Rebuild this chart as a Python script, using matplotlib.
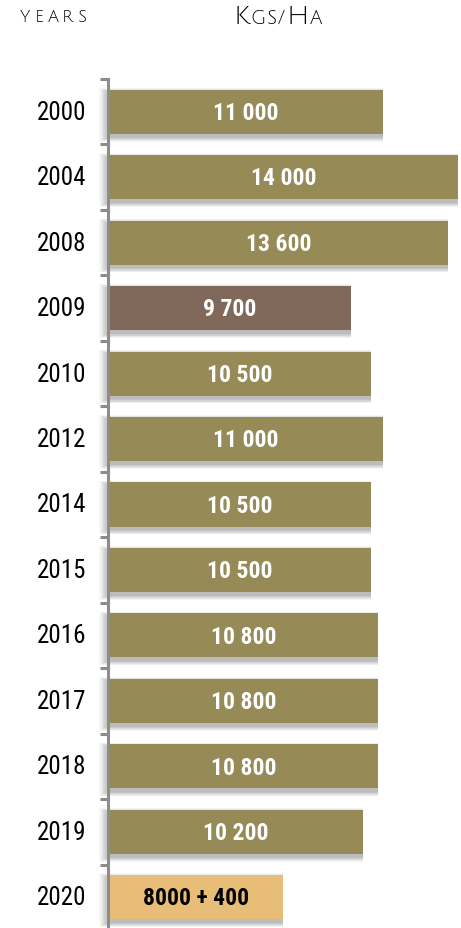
import numpy as np
import matplotlib.pyplot as plt
from matplotlib.patches import Rectangle

years = ["2000", "2004", "2008", "2009", "2010", "2012", "2014", "2015",
         "2016", "2017", "2018", "2019", "2020"]
yields = [11000, 14000, 13600, 9700, 10500, 11000, 10500, 10500,
          10800, 10800, 10800, 10200, 7000]
labels = ["11 000", "14 000", "13 600", "9 700", "10 500", "11 000", "10 500",
          "10 500", "10 800", "10 800", "10 800", "10 200", "8000 + 400"]

OLIVE = "#968a56"
BROWN = "#80685a"
SAND = "#e8bd78"
colors = [OLIVE] * len(years)
colors[3] = BROWN
colors[-1] = SAND
text_colors = ["white"] * len(years)
text_colors[-1] = "black"

NARROW = ["Roboto Condensed", "DejaVu Sans"]
HEAD = ["Julius Sans One", "DejaVu Sans"]

W, H = 461, 929
fig = plt.figure(figsize=(W / 100, H / 100), dpi=100)

# axes spans from the axis line to the right edge
ax_left, ax_top, ax_bot = 108, 80, 931
ax = fig.add_axes([ax_left / W, (H - ax_bot) / H, (W - ax_left) / W, (ax_bot - ax_top) / H])
xmax = (W - ax_left) / (274 / 11000)
ax.set_xlim(0, xmax)
n = len(years)
ax.set_ylim(n - 0.5, -0.5)

px_x = xmax / (W - ax_left)
px_y = n / (ax_bot - ax_top)

bar_h = 0.673
y = np.arange(n)
x0 = px_x  # bars start just right of the axis line

# soft drop shadow under every bar
for yi, v in zip(y, yields):
    for k in range(8, 0, -1):
        ax.add_patch(Rectangle((x0 - k * px_x * 1.2, yi - bar_h / 2 + 3 * px_y - k * px_y * 0.6),
                               v + k * px_x * 1.2, bar_h + k * px_y * 1.2,
                               facecolor="black", edgecolor="none", alpha=0.035,
                               zorder=1, clip_on=False))

ax.barh(y, yields, height=bar_h, color=colors, left=x0, zorder=3)

for yi, v, lab, tc in zip(y, yields, labels, text_colors):
    ax.text(x0 + v / 2, yi + 0.01, lab, ha="center", va="center", color=tc,
            fontsize=17, fontweight="bold", family=NARROW, zorder=4)

# axis line with ticks between categories
for s in ["top", "right", "bottom"]:
    ax.spines[s].set_visible(False)
ax.spines["left"].set_color("#8c8c8c")
ax.spines["left"].set_linewidth(2.2)
ax.spines["left"].set_zorder(5)
ax.set_xticks([])
ax.set_yticks(np.arange(n + 1) - 0.5)
ax.set_yticklabels([])
ax.tick_params(axis="y", length=6, width=2.2, color="#8c8c8c", direction="out")
for yi, yr in zip(y, years):
    fig.text(86 / W, 1 - (ax_top + (yi + 0.5) / px_y) / H, yr, ha="right", va="center",
             fontsize=18, family=NARROW, fontweight="normal", color="black")


def caps_text(x, base, parts, track=0.0):
    # lay out capitals and small capitals letter by letter on one baseline
    r = fig.canvas.get_renderer()
    for s, size in parts:
        for ch in s:
            t = fig.text(x / W, 1 - base / H, ch, fontsize=size, family=HEAD,
                         va="baseline", ha="left", color="black",
                         path_effects=[])
            t.set_fontweight("bold")
            x += t.get_window_extent(renderer=r).width + track


caps_text(20, 22, [("YEARS", 12)], track=4.0)
caps_text(233, 24, [("K", 19), ("GS/", 13.5), ("H", 19), ("A", 13.5)], track=1.0)

fig.savefig("out.png", dpi=100)
